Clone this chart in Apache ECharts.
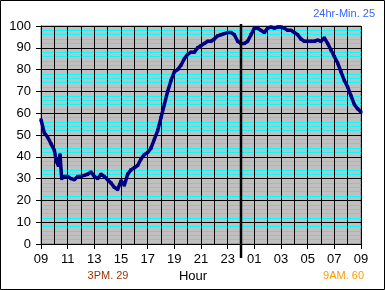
<!DOCTYPE html>
<html><head><meta charset="utf-8">
<script src="https://cdn.jsdelivr.net/npm/echarts@6/dist/echarts.min.js"></script>
<style>html,body{margin:0;padding:0;background:#fff}#c{width:385px;height:290px}</style>
</head><body><div id="c"></div>
<script>
// Hours since 09:00
const hours = [0,0.25,0.5,0.75,1,1.15,1.3,1.43,1.55,1.75,2,2.25,2.5,2.75,3,3.25,3.5,3.75,4,4.25,4.5,4.75,5,5.25,5.5,5.75,6,6.25,6.5,6.75,7,7.25,7.5,7.75,8,8.25,8.5,8.75,9,9.25,9.5,9.75,10,10.25,10.5,10.75,11,11.25,11.5,11.75,12,12.25,12.5,12.75,13,13.25,13.5,13.75,14,14.25,14.5,14.75,15,15.25,15.5,15.75,16,16.25,16.5,16.75,17,17.25,17.5,17.75,18,18.25,18.5,18.75,19,19.25,19.5,19.75,20,20.25,20.5,20.75,21,21.25,21.5,21.75,22,22.25,22.5,22.75,23,23.25,23.5,23.75,24];
const values = [57,51,49,46,43,38,36,41,30,31,31,30,29.5,31,31,31.5,32,33,31,30,32,31,29.5,28,26,25,29,27,32,34,35,36,39,41,42,44,48,52,58,64,70,75,79,80,82,85,87,88,88,90,91,92,93,93,94,95.5,96,96.5,97,97,96,93,92,92,93,96,99,99,98,97,99,99.5,99,99.5,99.5,99,98,98,97,96,94,93,93,93,93,93.5,93,94.5,92,89,86,83,79,75,72,68,64,62,60.5];
const hourLabels = ['09','11','13','15','17','19','21','23','01','03','05','07','09'];
const midnightHour = 15;
const axisTitle = 'Hour';
const minNote = '24hr-Min. 25';
const pmNote = '3PM. 29';
const amNote = '9AM. 60';

(function () {
const chart = echarts.init(document.getElementById('c'), null, {renderer:'canvas'});
const font = 'Liberation Sans, Arial, sans-serif';
const option = {
  animation: false,
  grid: {left: 41, right: 24, top: 26, bottom: 46, show: true, backgroundColor: '#C0C0C0', borderColor: '#808080', borderWidth: 1},
  xAxis: [
    {type: 'value', min: 0, max: 24, interval: 1, z: 1,
     axisLine: {show: false}, axisTick: {show: false}, axisLabel: {show: false},
     splitLine: {show: true, lineStyle: {color: '#000', width: 1}}},
    {type: 'value', min: 0, max: 24, interval: 2, position: 'bottom', z: 3,
     axisLine: {show: true, lineStyle: {color: '#000', width: 1}},
     axisTick: {show: true, length: 5, lineStyle: {color: '#000'}},
     axisLabel: {margin: 9, color: '#000', fontFamily: font, fontSize: 13,
       formatter: v => hourLabels[Math.round(v / 2)]},
     splitLine: {show: false}}
  ],
  yAxis: {type: 'value', min: 0, max: 100, interval: 10, z: 0,
    axisLine: {show: true, lineStyle: {color: '#000', width: 1}},
    axisTick: {show: true, length: 5, lineStyle: {color: '#000'}},
    axisLabel: {margin: 10, color: '#000', fontFamily: font, fontSize: 13},
    splitLine: {show: true, lineStyle: {color: '#000', width: 1}},
    minorTick: {show: false, splitNumber: 5},
    minorSplitLine: {show: true, lineStyle: {color: '#00FFFF', width: 1}}
  },
  series: [{
    type: 'line', xAxisIndex: 0,
    data: hours.map((h, i) => [h, values[i]]),
    showSymbol: true, symbol: 'rect', symbolSize: 3,
    itemStyle: {color: '#000080'},
    lineStyle: {color: '#000080', width: 3.5},
    z: 2
  }],
  graphic: []
};
chart.setOption(option);

const pTop = chart.convertToPixel({xAxisIndex: 0, yAxisIndex: 0}, [midnightHour, 100]);
const pBot = chart.convertToPixel({xAxisIndex: 0, yAxisIndex: 0}, [midnightHour, 0]);
chart.setOption({graphic: [
  {type: 'line', shape: {x1: pTop[0], y1: pTop[1] - 2, x2: pBot[0], y2: pBot[1] + 14}, style: {stroke: '#000', lineWidth: 2.5}, z: 100},
  {type: 'rect', shape: {x: 0.5, y: 0.5, width: 384, height: 289}, style: {fill: 'none', stroke: '#000', lineWidth: 1}, z: 100},
  {type: 'text', x: 193, y: 276, style: {text: axisTitle, fill: '#000', font: '13px ' + font, align: 'center', verticalAlign: 'middle'}},
  {type: 'text', x: 108, y: 276, style: {text: pmNote, fill: '#993300', font: '11px ' + font, align: 'center', verticalAlign: 'middle'}},
  {type: 'text', x: 364, y: 276, style: {text: amNote, fill: '#FF9900', font: '11px ' + font, align: 'right', verticalAlign: 'middle'}},
  {type: 'text', x: 375, y: 14, style: {text: minNote, fill: '#3366FF', font: '11px ' + font, align: 'right', verticalAlign: 'middle'}}
]});
})();
</script></body></html>
